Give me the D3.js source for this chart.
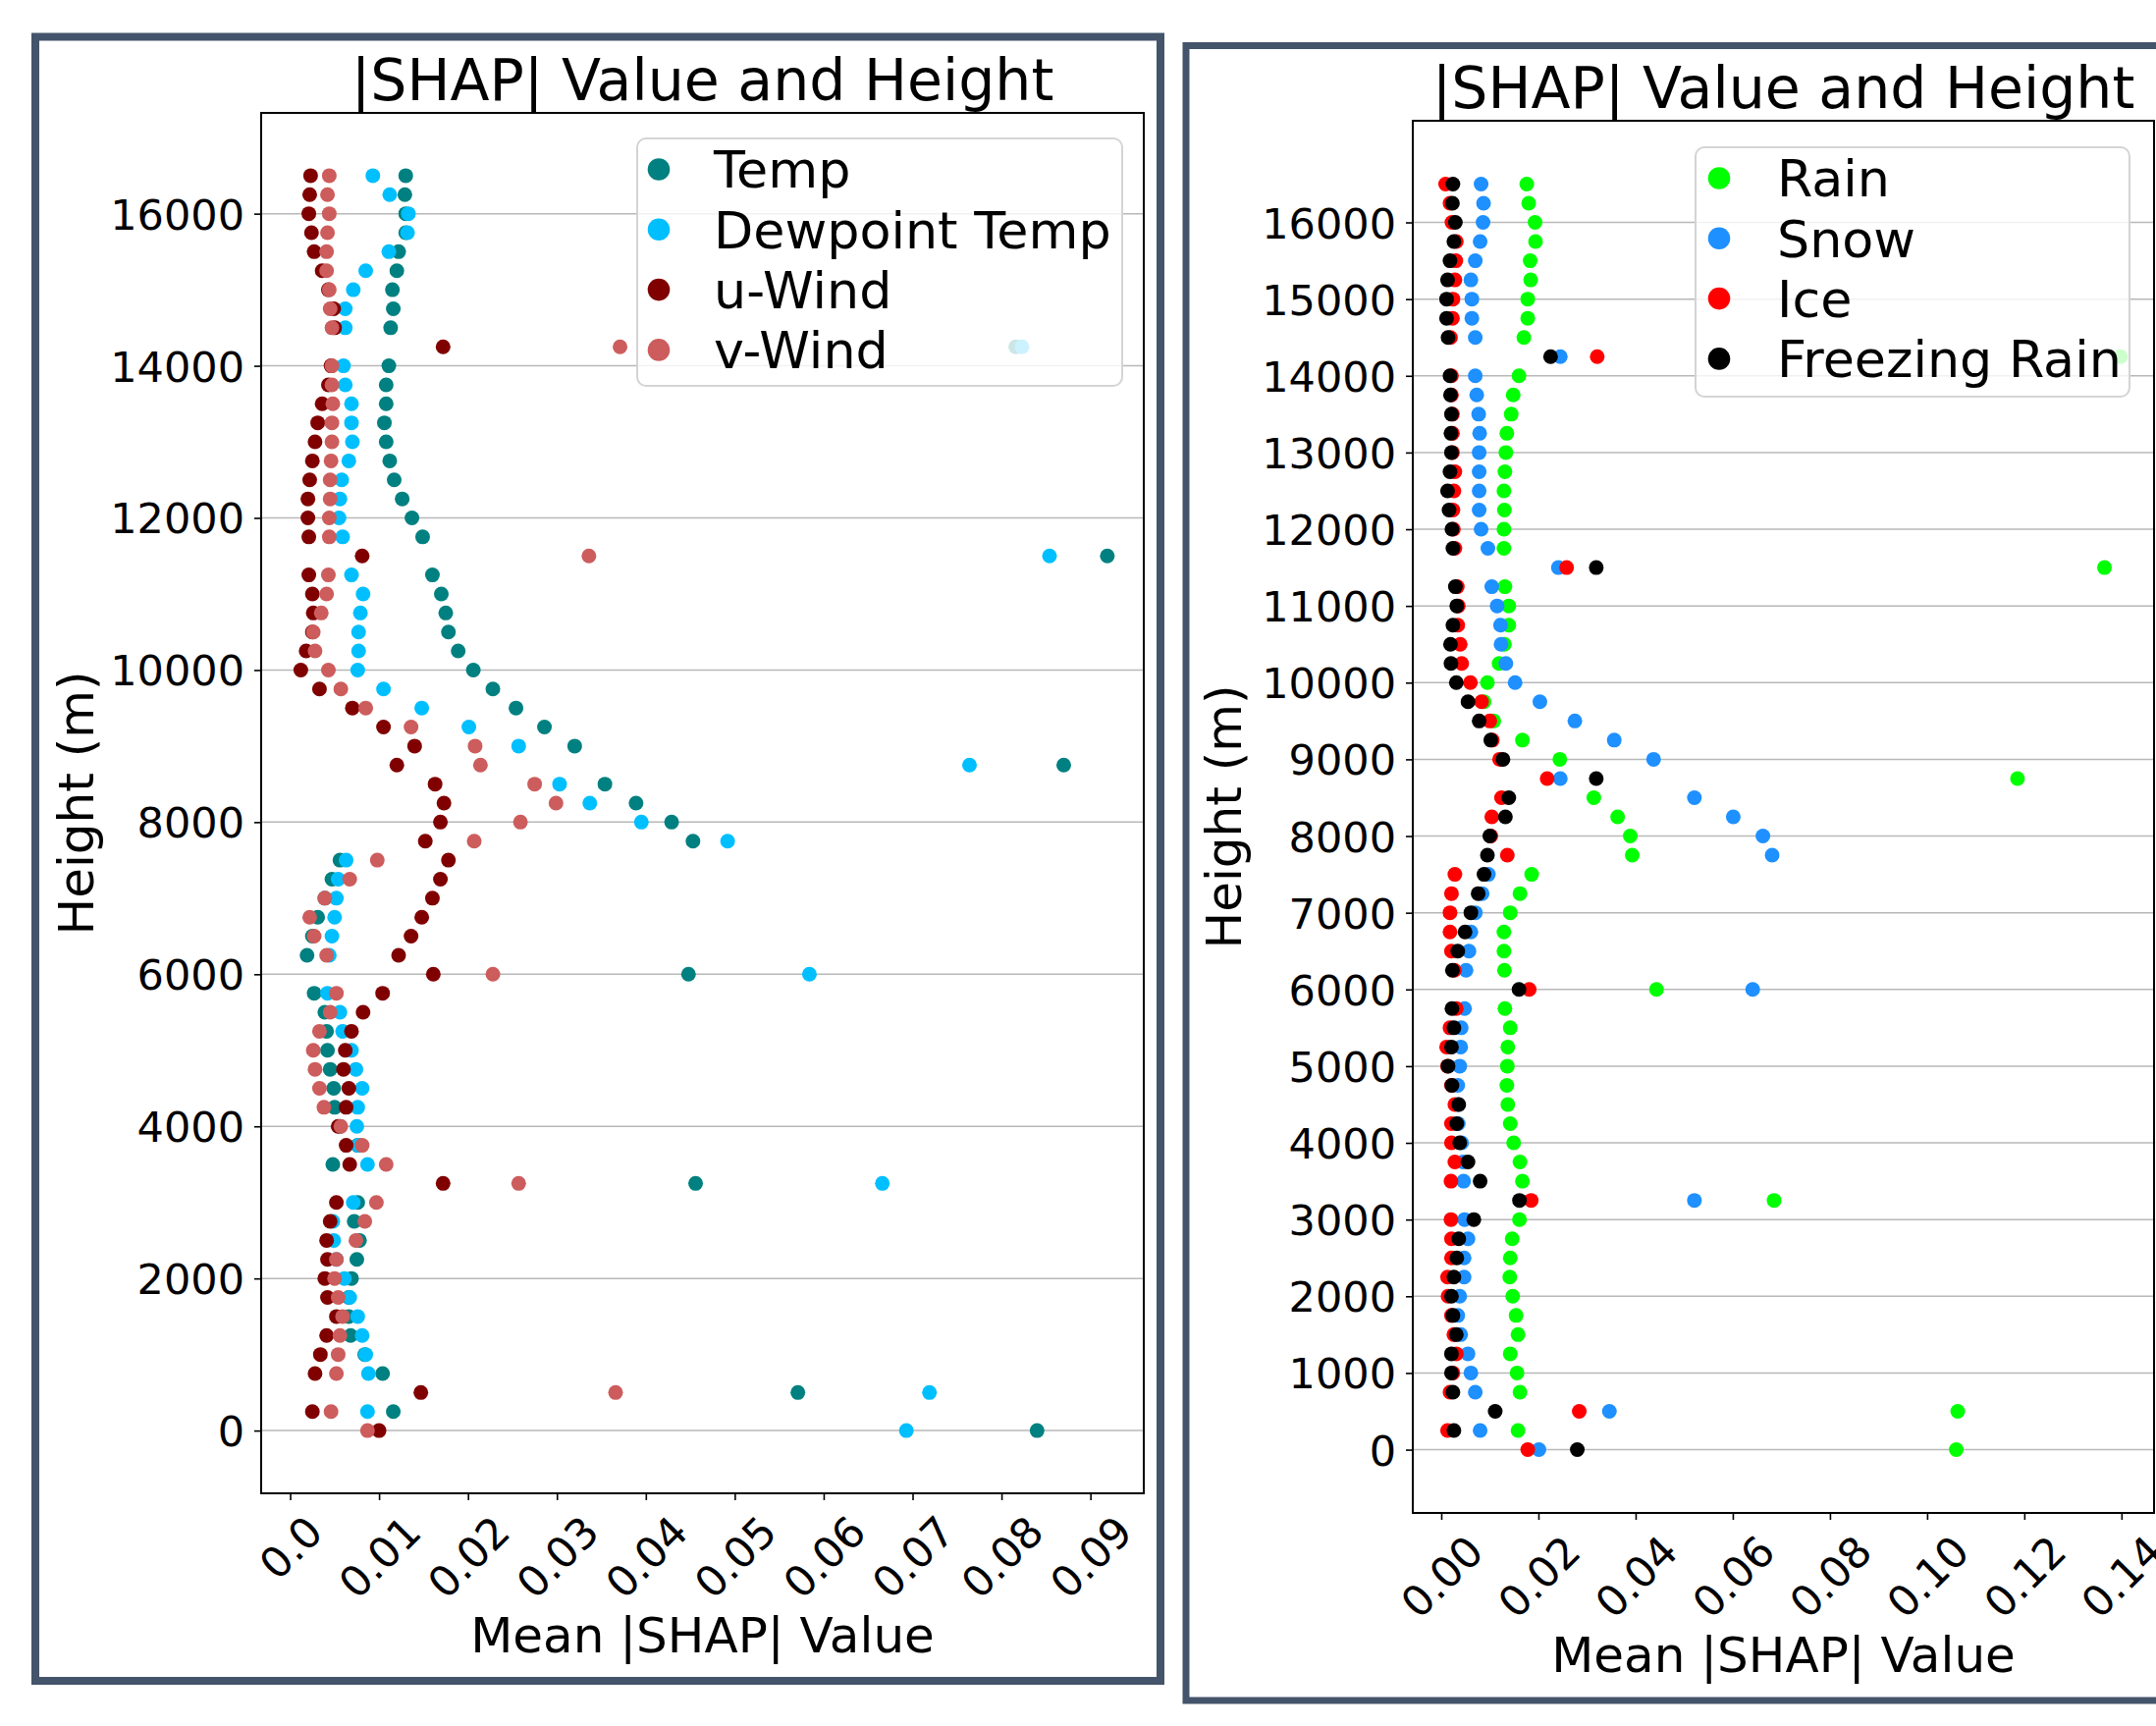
<!DOCTYPE html>
<html>
<head>
<meta charset="utf-8">
<script src="https://cdn.jsdelivr.net/npm/d3@7"></script>
<style>
  body { margin: 0; background: #fff; }
  svg { display: block; font-family: "DejaVu Sans", sans-serif; }
</style>
</head>
<body>
<div id="chart"></div>
<script>
// heights (m), one entry per level
const heights = [
  0, 250, 500, 750, 1000, 1250, 1500, 1750, 2000, 2250,
  2500, 2750, 3000, 3250, 3500, 3750, 4000, 4250, 4500, 4750,
  5000, 5250, 5500, 5750, 6000, 6250, 6500, 6750, 7000, 7250,
  7500, 7750, 8000, 8250, 8500, 8750, 9000, 9250, 9500, 9750,
  10000, 10250, 10500, 10750, 11000, 11250, 11500, 11750, 12000, 12250,
  12500, 12750, 13000, 13250, 13500, 13750, 14000, 14250, 14500, 14750,
  15000, 15250, 15500, 15750, 16000, 16250, 16500
]

// left panel: mean |SHAP| per height
const temp = [
  0.0840, 0.0116, 0.0571, 0.0104, 0.0084, 0.0068, 0.0066, 0.0066, 0.0069, 0.0075,
  0.0078, 0.0072, 0.0076, 0.0456, 0.0048, 0.0076, 0.0056, 0.0050, 0.0049, 0.0045,
  0.0042, 0.0041, 0.0039, 0.0027, 0.0448, 0.0019, 0.0025, 0.0031, 0.0039, 0.0047,
  0.0056, 0.0453, 0.0429, 0.0389, 0.0354, 0.0870, 0.0320, 0.0286, 0.0254, 0.0228,
  0.0206, 0.0189, 0.0178, 0.0175, 0.0170, 0.0160, 0.0919, 0.0149, 0.0137, 0.0126,
  0.0117, 0.0112, 0.0108, 0.0106, 0.0108, 0.0108, 0.0111, 0.0816, 0.0113, 0.0116,
  0.0115, 0.0120, 0.0122, 0.0130, 0.0130, 0.0129, 0.0130
]
const dewpoint = [
  0.0693, 0.0087, 0.0719, 0.0088, 0.0085, 0.0081, 0.0076, 0.0067, 0.0061, 0.0052,
  0.0049, 0.0048, 0.0071, 0.0666, 0.0087, 0.0077, 0.0075, 0.0076, 0.0081, 0.0074,
  0.0069, 0.0059, 0.0056, 0.0042, 0.0584, 0.0044, 0.0047, 0.0050, 0.0052, 0.0054,
  0.0063, 0.0492, 0.0395, 0.0337, 0.0303, 0.0764, 0.0257, 0.0201, 0.0148, 0.0105,
  0.0076, 0.0077, 0.0077, 0.0079, 0.0082, 0.0069, 0.0854, 0.0059, 0.0055, 0.0056,
  0.0058, 0.0066, 0.0070, 0.0069, 0.0069, 0.0062, 0.0060, 0.0823, 0.0062, 0.0062,
  0.0071, 0.0085, 0.0111, 0.0132, 0.0133, 0.0112, 0.0093
]
const uWind = [
  0.0100, 0.0025, 0.0147, 0.0028, 0.0034, 0.0041, 0.0052, 0.0042, 0.0039, 0.0042,
  0.0041, 0.0045, 0.0052, 0.0172, 0.0067, 0.0063, 0.0054, 0.0063, 0.0066, 0.0060,
  0.0062, 0.0069, 0.0082, 0.0104, 0.0161, 0.0122, 0.0136, 0.0148, 0.0160, 0.0169,
  0.0178, 0.0152, 0.0169, 0.0173, 0.0163, 0.0120, 0.0140, 0.0105, 0.0070, 0.0033,
  0.0012, 0.0018, 0.0025, 0.0026, 0.0025, 0.0021, 0.0081, 0.0021, 0.0020, 0.0020,
  0.0022, 0.0025, 0.0028, 0.0031, 0.0036, 0.0043, 0.0046, 0.0172, 0.0050, 0.0049,
  0.0043, 0.0036, 0.0027, 0.0024, 0.0021, 0.0022, 0.0023
]
const vWind = [
  0.0087, 0.0046, 0.0366, 0.0052, 0.0054, 0.0056, 0.0059, 0.0054, 0.0050, 0.0052,
  0.0074, 0.0084, 0.0097, 0.0257, 0.0108, 0.0081, 0.0057, 0.0038, 0.0033, 0.0028,
  0.0026, 0.0033, 0.0045, 0.0052, 0.0228, 0.0041, 0.0027, 0.0022, 0.0039, 0.0067,
  0.0098, 0.0207, 0.0259, 0.0299, 0.0275, 0.0214, 0.0208, 0.0136, 0.0085, 0.0057,
  0.0043, 0.0028, 0.0026, 0.0035, 0.0041, 0.0043, 0.0336, 0.0044, 0.0044, 0.0045,
  0.0045, 0.0046, 0.0047, 0.0047, 0.0048, 0.0047, 0.0047, 0.0371, 0.0047, 0.0045,
  0.0044, 0.0041, 0.0041, 0.0042, 0.0044, 0.0042, 0.0044
]

// right panel: mean |SHAP| per height
const rain = [
  0.1060, 0.0158, 0.1063, 0.0162, 0.0156, 0.0142, 0.0158, 0.0154, 0.0147, 0.0141,
  0.0142, 0.0146, 0.0161, 0.0685, 0.0167, 0.0162, 0.0149, 0.0142, 0.0137, 0.0135,
  0.0136, 0.0137, 0.0142, 0.0131, 0.0443, 0.0130, 0.0129, 0.0129, 0.0142, 0.0162,
  0.0186, 0.0393, 0.0389, 0.0363, 0.0314, 0.1186, 0.0244, 0.0167, 0.0108, 0.0088,
  0.0095, 0.0119, 0.0130, 0.0139, 0.0139, 0.0131, 0.1365, 0.0129, 0.0129, 0.0130,
  0.0129, 0.0131, 0.0133, 0.0135, 0.0144, 0.0148, 0.0160, 0.1398, 0.0170, 0.0178,
  0.0178, 0.0184, 0.0183, 0.0194, 0.0193, 0.0180, 0.0176
]
const snow = [
  0.0201, 0.0080, 0.0346, 0.0070, 0.0061, 0.0055, 0.0040, 0.0034, 0.0038, 0.0047,
  0.0047, 0.0055, 0.0048, 0.0521, 0.0046, 0.0045, 0.0042, 0.0035, 0.0035, 0.0034,
  0.0038, 0.0040, 0.0041, 0.0048, 0.0641, 0.0051, 0.0057, 0.0061, 0.0070, 0.0084,
  0.0097, 0.0681, 0.0662, 0.0601, 0.0521, 0.0245, 0.0437, 0.0356, 0.0275, 0.0203,
  0.0152, 0.0133, 0.0123, 0.0122, 0.0115, 0.0104, 0.0241, 0.0096, 0.0082, 0.0078,
  0.0078, 0.0078, 0.0078, 0.0079, 0.0077, 0.0073, 0.0070, 0.0245, 0.0070, 0.0063,
  0.0063, 0.0061, 0.0070, 0.0080, 0.0086, 0.0087, 0.0082
]
const ice = [
  0.0178, 0.0013, 0.0284, 0.0018, 0.0024, 0.0031, 0.0026, 0.0021, 0.0014, 0.0013,
  0.0021, 0.0021, 0.0020, 0.0185, 0.0020, 0.0028, 0.0021, 0.0021, 0.0028, 0.0021,
  0.0013, 0.0011, 0.0018, 0.0031, 0.0181, 0.0027, 0.0021, 0.0018, 0.0018, 0.0021,
  0.0028, 0.0136, 0.0102, 0.0104, 0.0124, 0.0218, 0.0120, 0.0105, 0.0100, 0.0083,
  0.0060, 0.0042, 0.0039, 0.0034, 0.0035, 0.0033, 0.0258, 0.0028, 0.0025, 0.0024,
  0.0026, 0.0028, 0.0023, 0.0023, 0.0023, 0.0021, 0.0021, 0.0321, 0.0019, 0.0023,
  0.0024, 0.0028, 0.0030, 0.0031, 0.0022, 0.0018, 0.0009
]
const freezingRain = [
  0.0280, 0.0026, 0.0111, 0.0024, 0.0021, 0.0021, 0.0031, 0.0024, 0.0021, 0.0026,
  0.0032, 0.0036, 0.0067, 0.0161, 0.0080, 0.0055, 0.0038, 0.0032, 0.0036, 0.0022,
  0.0014, 0.0021, 0.0026, 0.0022, 0.0160, 0.0023, 0.0034, 0.0049, 0.0061, 0.0076,
  0.0088, 0.0095, 0.0100, 0.0132, 0.0139, 0.0319, 0.0127, 0.0102, 0.0078, 0.0055,
  0.0031, 0.0020, 0.0019, 0.0024, 0.0032, 0.0029, 0.0319, 0.0024, 0.0022, 0.0016,
  0.0013, 0.0018, 0.0021, 0.0020, 0.0021, 0.0019, 0.0018, 0.0225, 0.0014, 0.0011,
  0.0011, 0.0013, 0.0018, 0.0026, 0.0029, 0.0023, 0.0024
]

// ticks
const leftXTicks = [0, 0.01, 0.02, 0.03, 0.04, 0.05, 0.06, 0.07, 0.08, 0.09]
const leftXLabels = ['0.0', '0.01', '0.02', '0.03', '0.04', '0.05', '0.06', '0.07', '0.08', '0.09']
const leftYTicks = [0, 2000, 4000, 6000, 8000, 10000, 12000, 14000, 16000]
const rightXTicks = [0, 0.02, 0.04, 0.06, 0.08, 0.10, 0.12, 0.14]
const rightXLabels = ['0.00', '0.02', '0.04', '0.06', '0.08', '0.10', '0.12', '0.14']
const rightYTicks = [0, 1000, 2000, 3000, 4000, 5000, 6000, 7000, 8000,
  9000, 10000, 11000, 12000, 13000, 14000, 15000, 16000]

const svg = d3.select('#chart')
    .append('svg')
    .attr('width', 2196)
    .attr('height', 1758)

function drawPanel(p) {
    const g = svg.append('g')

    // outer frame
    g.append('rect')
        .attr('x', p.frame[0]).attr('y', p.frame[1])
        .attr('width', p.frame[2]).attr('height', p.frame[3])
        .attr('fill', 'none')
        .attr('stroke', '#44546a')
        .attr('stroke-width', p.frame[4])

    const x = d3.scaleLinear().domain(p.xDomain).range([p.left, p.right])
    const y = d3.scaleLinear().domain([-825, 17325]).range([p.bottom, p.top])

    // grid
    g.append('g').selectAll('line')
        .data(p.yTicks)
        .join('line')
        .attr('x1', p.left).attr('x2', p.right)
        .attr('y1', d => y(d)).attr('y2', d => y(d))
        .attr('stroke', '#b8b8b8')
        .attr('stroke-width', 1.5)

    // points
    p.series.forEach(s => {
        g.append('g').selectAll('circle')
            .data(heights)
            .join('circle')
            .attr('cx', (d, i) => x(s.values[i]))
            .attr('cy', d => y(d))
            .attr('r', 7.5)
            .attr('fill', s.color)
    })

    // spines
    g.append('rect')
        .attr('x', p.left).attr('y', p.top)
        .attr('width', p.right - p.left).attr('height', p.bottom - p.top)
        .attr('fill', 'none')
        .attr('stroke', '#000')
        .attr('stroke-width', 2)

    const yAxis = g.append('g')
        .attr('transform', `translate(${p.left},0)`)
        .call(d3.axisLeft(y).tickValues(p.yTicks).tickSize(7).tickPadding(10).tickFormat(d3.format('d')))
    yAxis.select('.domain').remove()
    yAxis.selectAll('line').attr('stroke-width', 1.6)
    yAxis.selectAll('text')
        .attr('font-size', 43)
        .attr('font-family', 'DejaVu Sans')
        .attr('fill', '#000')
        .attr('dy', '0.36em')

    const xAxis = g.append('g')
        .attr('transform', `translate(0,${p.bottom})`)
        .call(d3.axisBottom(x).tickValues(p.xTicks).tickSize(7).tickFormat((d, i) => p.xLabels[i]))
    xAxis.select('.domain').remove()
    xAxis.selectAll('line').attr('stroke-width', 1.6)
    xAxis.selectAll('text')
        .attr('font-size', 43)
        .attr('font-family', 'DejaVu Sans')
        .attr('fill', '#000')
        .attr('y', null)
        .attr('dy', '0.36em')
        .attr('text-anchor', 'middle')
        .attr('transform', function () {
            const w = this.getComputedTextLength()
            return `translate(0,${20 + (w + 31) * 0.3536}) rotate(-45)`
        })

    // title and axis labels
    const cx = (p.left + p.right) / 2
    g.append('text')
        .attr('x', cx).attr('y', p.top - 13)
        .attr('text-anchor', 'middle')
        .attr('font-size', 58.5)
        .text('|SHAP| Value and Height')
    g.append('text')
        .attr('x', cx).attr('y', p.bottom + 162)
        .attr('text-anchor', 'middle')
        .attr('font-size', 50)
        .text('Mean |SHAP| Value')
    g.append('text')
        .attr('transform', `translate(${p.yLabelX},${(p.top + p.bottom) / 2}) rotate(-90)`)
        .attr('text-anchor', 'middle')
        .attr('font-size', 50)
        .text('Height (m)')

    // legend
    const L = p.legend
    g.append('rect')
        .attr('x', L.x).attr('y', L.y)
        .attr('width', L.w).attr('height', L.h)
        .attr('rx', 9).attr('ry', 9)
        .attr('fill', '#fff')
        .attr('fill-opacity', 0.8)
        .attr('stroke', '#d4d4d4')
        .attr('stroke-width', 2)
    const items = g.append('g').selectAll('g')
        .data(p.series)
        .join('g')
        .attr('transform', (d, i) => `translate(0,${L.y + 31.5 + i * 61.3})`)
    items.append('circle')
        .attr('cx', L.markerX).attr('cy', 0)
        .attr('r', 11.3)
        .attr('fill', d => d.color)
    items.append('text')
        .attr('x', L.textX).attr('y', 0)
        .attr('dy', '0.36em')
        .attr('font-size', 52.3)
        .text(d => d.name)
}

drawPanel({
    frame: [36, 37.5, 1146, 1674.5, 8],
    left: 266, right: 1165, top: 115, bottom: 1521,
    xDomain: [-0.00326, 0.0960],
    xTicks: leftXTicks, xLabels: leftXLabels, yTicks: leftYTicks,
    yLabelX: 95,
    series: [
        { name: 'Temp', values: temp, color: '#008080' },
        { name: 'Dewpoint Temp', values: dewpoint, color: '#00bfff' },
        { name: 'u-Wind', values: uWind, color: '#800000' },
        { name: 'v-Wind', values: vWind, color: '#cd5c5c' }
    ],
    legend: { x: 649, y: 141, w: 494, h: 252, markerX: 671, textX: 727 }
})

drawPanel({
    frame: [1208, 46.5, 1040, 1685.5, 7],
    left: 1439, right: 2194, top: 123, bottom: 1541,
    xDomain: [-0.00586, 0.1467],
    xTicks: rightXTicks, xLabels: rightXLabels, yTicks: rightYTicks,
    yLabelX: 1264,
    series: [
        { name: 'Rain', values: rain, color: '#00ff00' },
        { name: 'Snow', values: snow, color: '#1e90ff' },
        { name: 'Ice', values: ice, color: '#ff0000' },
        { name: 'Freezing Rain', values: freezingRain, color: '#000000' }
    ],
    legend: { x: 1727, y: 150, w: 442, h: 254, markerX: 1751, textX: 1810 }
})
</script>
</body>
</html>
